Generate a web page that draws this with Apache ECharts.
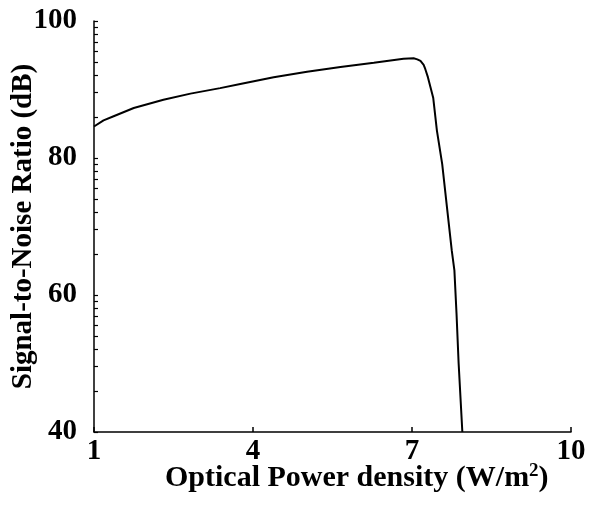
<!DOCTYPE html>
<html>
<head>
<meta charset="utf-8">
<script src="https://cdn.jsdelivr.net/npm/echarts@6/dist/echarts.min.js"></script>
<style>
  html, body { margin: 0; padding: 0; background: #fff; }
  #chart { width: 589px; height: 508px; }
</style>
</head>
<body>
<div id="chart"></div>
<script>
// optical power density (W/m^2) and measured SNR (dB)
const powerDensity = [1, 1.02, 1.18, 1.37, 1.75, 2.31, 2.82, 3.38, 3.76, 4.39, 5.02, 5.65, 6.28, 6.84, 7.03, 7.10, 7.16, 7.22, 7.25, 7.30, 7.35, 7.40, 7.47, 7.57, 7.66, 7.75, 7.80, 7.84, 7.88, 7.95]
const snr          = [84.6, 84.7, 85.5, 86.1, 87.3, 88.5, 89.4, 90.2, 90.8, 91.8, 92.6, 93.3, 93.9, 94.5, 94.57, 94.4, 94.17, 93.6, 93.0, 91.8, 90.3, 88.8, 84.0, 79.1, 72.8, 66.5, 63.6, 57.3, 50.0, 40]

const xTicks = [1, 4, 7, 10]
const yTicks = [40, 60, 80, 100]
// minor ticks sit at log spacing inside each 20 dB step
const yMinorOffsets = [6.02, 9.54, 12.04, 13.98, 15.56, 16.90, 18.06, 19.08]

const yTickValues = []
yTicks.forEach((t, i) => {
  yTickValues.push(t)
  if (i < yTicks.length - 1) yMinorOffsets.forEach(o => yTickValues.push(t + o))
})

const FONT = '"Liberation Serif","Times New Roman",serif'
const chart = echarts.init(document.getElementById('chart'), null, { renderer: 'canvas' })

chart.setOption({
  animation: false,
  grid: { left: 94, right: 18, top: 21, bottom: 76, containLabel: false, outerBoundsMode: 'none' },
  xAxis: {
    type: 'value', min: 1, max: 10,
    axisLine: { lineStyle: { color: '#000', width: 1.5 } },
    axisTick: { inside: true, length: 5, customValues: xTicks, lineStyle: { color: '#000', width: 1.5 } },
    axisLabel: { customValues: xTicks, color: '#000', fontFamily: FONT, fontWeight: 'bold', fontSize: 29, margin: 5 },
    splitLine: { show: false },
  },
  yAxis: {
    type: 'value', min: 40, max: 100,
    name: 'Signal-to-Noise Ratio (dB)',
    nameLocation: 'middle', nameRotate: 90, nameGap: 56, nameMoveOverlap: false,
    nameTextStyle: { color: '#000', fontFamily: FONT, fontWeight: 'bold', fontSize: 29 },
    axisLine: { show: true, lineStyle: { color: '#000', width: 1.5 } },
    axisTick: { inside: true, length: 4, customValues: yTickValues, lineStyle: { color: '#000', width: 1.2 } },
    axisLabel: { customValues: yTicks, color: '#000', fontFamily: FONT, fontWeight: 'bold', fontSize: 29, margin: 17 },
    splitLine: { show: false },
  },
  graphic: [{
    type: 'text', left: 165, top: 462,
    style: {
      text: '{a|Optical Power density (W/m}{s|2}{a|)}',
      rich: {
        a: { fontFamily: FONT, fontWeight: 'bold', fontSize: 30, fill: '#000', lineHeight: 34 },
        s: { fontFamily: FONT, fontWeight: 'bold', fontSize: 19, fill: '#000', padding: [0, 0, 14, 0] },
      },
    },
  }],
  series: [{
    type: 'line',
    data: powerDensity.map((x, i) => [x, snr[i]]),
    showSymbol: false,
    lineStyle: { color: '#000', width: 2 },
  }],
})
</script>
</body>
</html>
